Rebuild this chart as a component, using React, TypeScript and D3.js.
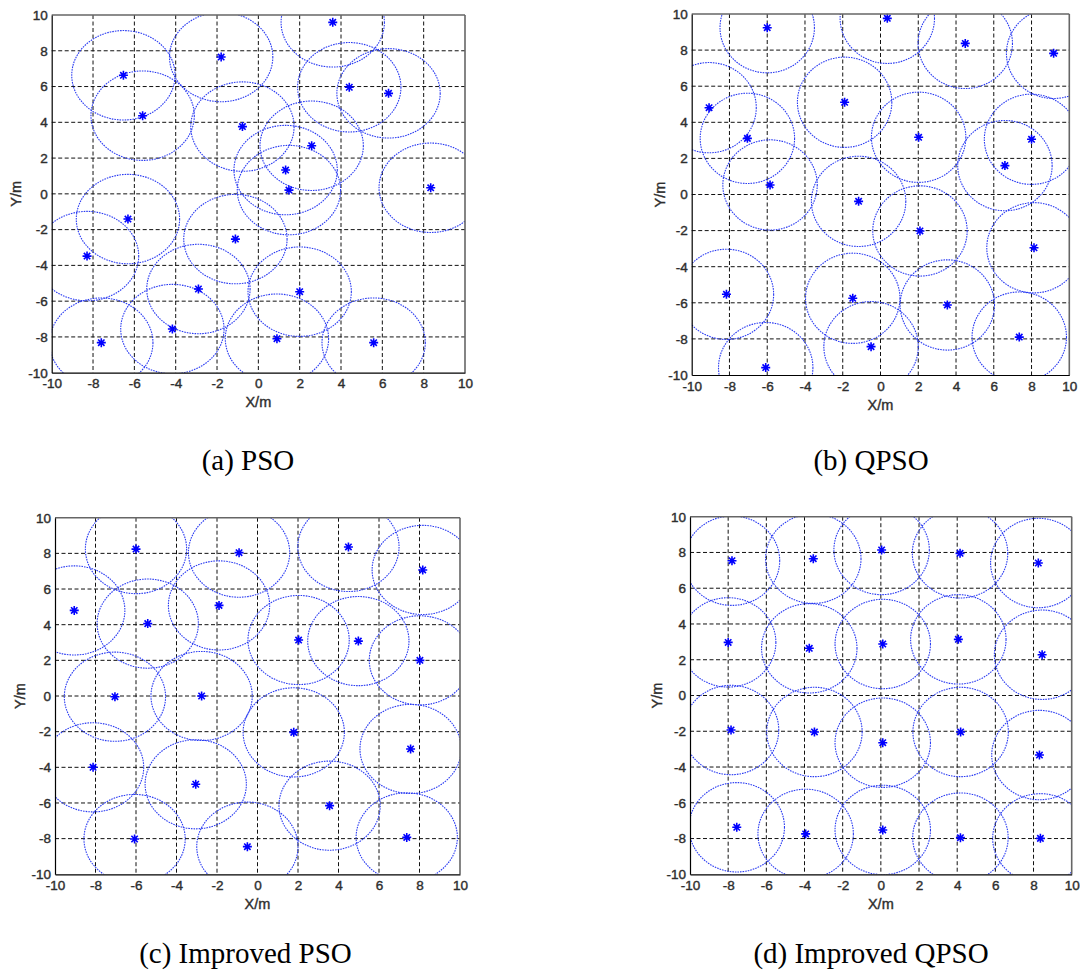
import React, { useRef, useEffect } from 'react';
import * as d3 from 'd3';

// axis ticks shared by all four panels
const ticks = [-10, -8, -6, -4, -2, 0, 2, 4, 6, 8, 10];
const sensingRadius = 2.5;

// (a) PSO node positions
const psoX = [3.6, -1.8, -6.53, 4.4, 6.3, -5.6, -0.77, 2.58, 1.32, 1.48, 8.34, -6.31, -1.11, -8.29, -2.9, 2.0, -4.16, -7.6, 0.9, 5.58];
const psoY = [9.59, 7.65, 6.63, 5.96, 5.62, 4.37, 3.76, 2.69, 1.33, 0.21, 0.34, -1.41, -2.53, -3.48, -5.32, -5.47, -7.56, -8.32, -8.1, -8.32];

// (b) QPSO
const qpsoX = [0.36, -6.0, 4.49, 9.17, -9.08, -1.9, -7.05, 2.02, 8.0, 6.59, -5.85, -1.16, 2.09, 8.13, -8.16, -1.47, 3.54, 7.35, -0.5, -6.08];
const qpsoY = [9.76, 9.24, 8.37, 7.82, 4.81, 5.11, 3.11, 3.17, 3.06, 1.6, 0.53, -0.38, -2.02, -2.95, -5.53, -5.75, -6.12, -7.9, -8.43, -9.59];

// (c) Improved PSO
const ipsoX = [-6.0, -0.91, 4.49, 8.16, -9.05, -5.42, -1.9, 2.03, 4.98, 8.02, -7.04, -2.76, 1.79, 7.56, -8.12, -3.05, 3.56, -6.07, -0.5, 7.37];
const ipsoY = [8.24, 8.04, 8.36, 7.07, 4.8, 4.06, 5.08, 3.14, 3.08, 2.0, -0.04, 0.0, -2.04, -2.97, -4.0, -4.95, -6.15, -8.02, -8.45, -7.93];

// (d) Improved QPSO
const iqpsoX = [-7.8, -3.54, 0.04, 4.15, 8.25, -8.0, -3.75, 0.1, 4.06, 8.45, -7.85, -3.48, 0.1, 4.18, 8.31, -7.55, -3.94, 0.1, 4.17, 8.36];
const iqpsoY = [7.54, 7.65, 8.14, 7.95, 7.41, 2.97, 2.64, 2.88, 3.14, 2.28, -1.93, -2.04, -2.64, -2.04, -3.33, -7.37, -7.74, -7.52, -7.95, -7.99];

const captions = ['(a) PSO', '(b) QPSO', '(c) Improved PSO', '(d) Improved QPSO'];

const panels = [
  { xs: psoX, ys: psoY, caption: captions[0], left: 51.7, right: 465, top: 15, bottom: 372.7, yLabelDx: -31, capX: 248, capY: 470 },
  { xs: qpsoX, ys: qpsoY, caption: captions[1], left: 691.7, right: 1069.3, top: 14, bottom: 375, yLabelDx: -27, capX: 871, capY: 470 },
  { xs: ipsoX, ys: ipsoY, caption: captions[2], left: 55, right: 460, top: 517.7, bottom: 874.3, yLabelDx: -30, capX: 245.5, capY: 963 },
  { xs: iqpsoX, ys: iqpsoY, caption: captions[3], left: 690, right: 1071.7, top: 516.7, bottom: 874.3, yLabelDx: -28.5, capX: 871, capY: 963 },
];

const axisFont = "'Liberation Sans Narrow', 'Arial Narrow', 'Liberation Sans', Arial, sans-serif";
const captionFont = "'Liberation Serif', 'Times New Roman', serif";
const textColor = '#2e2e2e';

const App: React.FC = () => {
  const svgRef = useRef<SVGSVGElement>(null);

  useEffect(() => {
    if (!svgRef.current) return;
    const svg = d3.select(svgRef.current);
    svg.selectAll('*').remove();

    svg.append('rect').attr('width', 1080).attr('height', 976).attr('fill', '#fff');

    panels.forEach((p, pi) => {
      const x = d3.scaleLinear().domain([-10, 10]).range([p.left, p.right]);
      const y = d3.scaleLinear().domain([-10, 10]).range([p.bottom, p.top]);
      const g = svg.append('g');

      const clipId = `clip-${pi}`;
      svg.append('clipPath').attr('id', clipId)
        .append('rect')
        .attr('x', p.left).attr('y', p.top)
        .attr('width', p.right - p.left).attr('height', p.bottom - p.top);

      // Grid
      const inner = ticks.slice(1, -1);
      g.append('g').selectAll('line.v').data(inner).enter().append('line')
        .attr('x1', d => x(d)).attr('x2', d => x(d))
        .attr('y1', p.top).attr('y2', p.bottom)
        .attr('stroke', '#111').attr('stroke-width', 1)
        .attr('stroke-dasharray', '4,2.5');
      g.append('g').selectAll('line.h').data(inner).enter().append('line')
        .attr('x1', p.left).attr('x2', p.right)
        .attr('y1', d => y(d)).attr('y2', d => y(d))
        .attr('stroke', '#111').attr('stroke-width', 1)
        .attr('stroke-dasharray', '4,2.5');

      const nodes = p.xs.map((v, i) => ({ x: v, y: p.ys[i] }));

      // Coverage circles
      const rx = x(sensingRadius) - x(0);
      const ry = y(0) - y(sensingRadius);
      g.append('g').attr('clip-path', `url(#${clipId})`)
        .selectAll('ellipse').data(nodes).enter().append('ellipse')
        .attr('cx', d => x(d.x)).attr('cy', d => y(d.y))
        .attr('rx', rx).attr('ry', ry)
        .attr('fill', 'none')
        .attr('stroke', '#2b3cf2')
        .attr('stroke-width', 1.1)
        .attr('stroke-dasharray', '1.6,1');

      // Node markers (*)
      g.append('g').selectAll('path').data(nodes).enter().append('path')
        .attr('transform', d => `translate(${x(d.x)},${y(d.y)})`)
        .attr('d', 'M-4.5,0H4.5M0,-4.5V4.5M-3.2,-3.2L3.2,3.2M-3.2,3.2L3.2,-3.2')
        .attr('stroke', '#0000ff')
        .attr('stroke-width', 1.6)
        .attr('fill', 'none');

      // Box
      g.append('line').attr('x1', p.left).attr('x2', p.right).attr('y1', p.top).attr('y2', p.top)
        .attr('stroke', '#666').attr('stroke-width', 1.6);
      g.append('line').attr('x1', p.right).attr('x2', p.right).attr('y1', p.top).attr('y2', p.bottom)
        .attr('stroke', '#666').attr('stroke-width', 1.6);

      // Axes
      const xAxis = g.append('g')
        .attr('transform', `translate(0,${p.bottom})`)
        .call(d3.axisBottom(x).tickValues(ticks).tickSize(0).tickPadding(6).tickFormat(d => String(d)));
      xAxis.select('.domain').attr('stroke', '#000').attr('stroke-width', 1.2);
      xAxis.selectAll('text')
        .attr('font-family', axisFont).attr('font-size', '13.5px')
        .attr('fill', textColor).attr('stroke', textColor).attr('stroke-width', 0.4);

      const yAxis = g.append('g')
        .attr('transform', `translate(${p.left},0)`)
        .call(d3.axisLeft(y).tickValues(ticks).tickSize(0).tickPadding(4).tickFormat(d => String(d)));
      yAxis.select('.domain').attr('stroke', '#000').attr('stroke-width', 1.2);
      yAxis.selectAll('text')
        .attr('font-family', axisFont).attr('font-size', '13.5px')
        .attr('fill', textColor).attr('stroke', textColor).attr('stroke-width', 0.4);

      // Axis titles
      g.append('text')
        .attr('x', (p.left + p.right) / 2).attr('y', p.bottom + 34.5)
        .attr('text-anchor', 'middle')
        .attr('font-family', axisFont).attr('font-size', '14.5px')
        .attr('fill', textColor).attr('stroke', textColor).attr('stroke-width', 0.4)
        .text('X/m');
      g.append('text')
        .attr('transform', `translate(${p.left + p.yLabelDx},${(p.top + p.bottom) / 2}) rotate(-90)`)
        .attr('text-anchor', 'middle')
        .attr('font-family', axisFont).attr('font-size', '14.5px')
        .attr('fill', textColor).attr('stroke', textColor).attr('stroke-width', 0.4)
        .text('Y/m');

      // Caption
      g.append('text')
        .attr('x', p.capX).attr('y', p.capY)
        .attr('text-anchor', 'middle')
        .attr('font-family', captionFont).attr('font-size', '29px')
        .attr('fill', '#000')
        .text(p.caption);
    });
  }, []);

  return (
    <div style={{ position: 'absolute', left: 0, top: 0 }}>
      <svg ref={svgRef} width={1080} height={976} style={{ display: 'block' }} />
    </div>
  );
};

export default App;
